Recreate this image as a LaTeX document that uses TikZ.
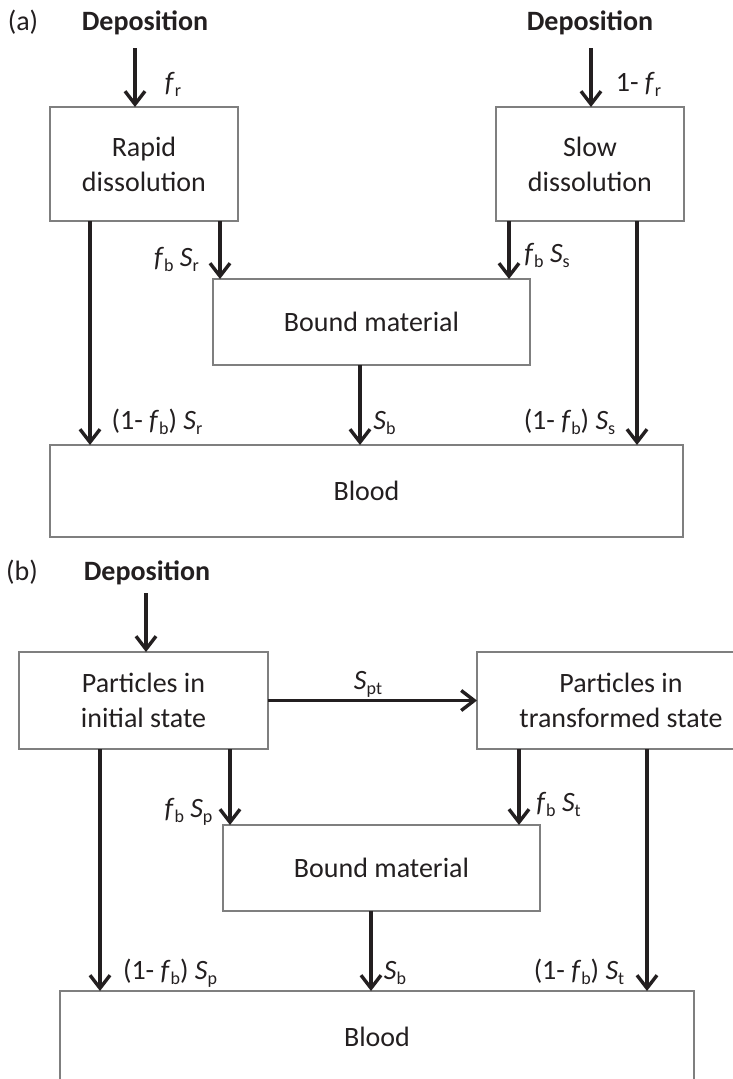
\documentclass[tikz,border=0pt]{standalone}
\usepackage{fontspec}
\setmainfont{Carlito}
\usetikzlibrary{arrows.meta}
\definecolor{ink}{HTML}{231F20}
\definecolor{frame}{HTML}{7F7F7F}
% lowered, smaller upright index
\newcommand\lowsub[1]{\raisebox{-5pt}{\fontsize{18}{18}\selectfont #1}}
\newcommand\fvar[1]{\textit{f}\lowsub{#1}}
\newcommand\Svar[1]{\textit{S}\lowsub{#1}}
\begin{document}
\begin{tikzpicture}[x=1pt,y=-1pt,
  font=\fontsize{28}{35}\selectfont, text=ink,
  box/.style={draw=frame, line width=1.6pt, align=center, inner sep=0pt, outer sep=0pt},
  flow/.style={draw=ink, line width=3.4pt, -{Straight Barb[length=13pt,width=20pt]}},
  rate/.style={anchor=base, inner sep=0pt},
  heading/.style={anchor=base, inner sep=0pt, font=\fontsize{28}{35}\selectfont\bfseries}]
\useasboundingbox (0,0) rectangle (733,1079);

% ---------- (a) rapid / slow dissolution ----------
\node[rate] (taga) at (23,30) {(a)};
\node[heading] (depr) at (145,30) {Deposition};
\node[heading] (deps) at (590,30) {Deposition};

\node[box, minimum width=188pt, minimum height=114pt] (rapid) at (144,164) {Rapid\\dissolution};
\node[box, minimum width=188pt, minimum height=114pt] (slow) at (590,164) {Slow\\dissolution};
\node[box, minimum width=317pt, minimum height=86pt] (bounda) at (371.5,322) {Bound material};
\node[box, minimum width=633pt, minimum height=92pt] (blooda) at (366.5,491) {Blood};

\coordinate (ina) at (135,48);
\coordinate (ins) at (591,48);
\coordinate (ra1) at ([xshift=-54pt]rapid.south);
\coordinate (ra2) at ([xshift=76pt]rapid.south);
\coordinate (sa1) at ([xshift=-81pt]slow.south);
\coordinate (sa2) at ([xshift=47pt]slow.south);
\coordinate (ba1) at ([xshift=-11.5pt]bounda.south);

\draw[flow] (ina) -- (ina |- rapid.north);
\draw[flow] (ins) -- (ins |- slow.north);
\draw[flow] (ra1) -- (ra1 |- blooda.north);
\draw[flow] (ra2) -- (ra2 |- bounda.north);
\draw[flow] (sa1) -- (sa1 |- bounda.north);
\draw[flow] (sa2) -- (sa2 |- blooda.north);
\draw[flow] (ba1) -- (ba1 |- blooda.north);

\node[rate] (lfr) at (173,91) {\fvar{r}};
\node[rate] (lfs) at (638.5,91) {1- \fvar{r}};
\node[rate] (lbr) at (176.5,266) {\fvar{b} \Svar{r}};
\node[rate] (lbs) at (547,262) {\fvar{b} \Svar{s}};
\node[rate] (lur) at (157,429) {(1- \fvar{b}) \Svar{r}};
\node[rate] (lsb) at (384.5,429) {\Svar{b}};
\node[rate] (lus) at (569.5,429) {(1- \fvar{b}) \Svar{s}};

% ---------- (b) particle transformation ----------
\node[rate] (tagb) at (22,580) {(b)};
\node[heading] (depb) at (147,580) {Deposition};

\node[box, minimum width=249pt, minimum height=97pt] (pinit) at (143.5,700.5) {Particles in\\initial state};
\node[box, minimum width=288pt, minimum height=97pt] (ptrans) at (621,700.5) {Particles in\\transformed state};
\node[box, minimum width=317pt, minimum height=86pt] (boundb) at (381.5,868) {Bound material};
\node[box, minimum width=634pt, minimum height=92pt] (bloodb) at (377,1037) {Blood};

\coordinate (inb) at (146,593);
\coordinate (pb1) at ([xshift=-43.5pt]pinit.south);
\coordinate (pb2) at ([xshift=86.5pt]pinit.south);
\coordinate (tb1) at ([xshift=-102pt]ptrans.south);
\coordinate (tb2) at ([xshift=26pt]ptrans.south);
\coordinate (bb1) at ([xshift=-10.5pt]boundb.south);

\draw[flow] (inb) -- (inb |- pinit.north);
\draw[flow] (pinit.east) -- (ptrans.west);
\draw[flow] (pb1) -- (pb1 |- bloodb.north);
\draw[flow] (pb2) -- (pb2 |- boundb.north);
\draw[flow] (tb1) -- (tb1 |- boundb.north);
\draw[flow] (tb2) -- (tb2 |- bloodb.north);
\draw[flow] (bb1) -- (bb1 |- bloodb.north);

\node[rate] (lpt) at (368,689) {\Svar{pt}};
\node[rate] (lbp) at (188.5,817) {\fvar{b} \Svar{p}};
\node[rate] (lbt) at (558.5,811) {\fvar{b} \Svar{t}};
\node[rate] (lup) at (170,979) {(1- \fvar{b}) \Svar{p}};
\node[rate] (lsbb) at (395,979) {\Svar{b}};
\node[rate] (lut) at (579,979) {(1- \fvar{b}) \Svar{t}};
\end{tikzpicture}
\end{document}
